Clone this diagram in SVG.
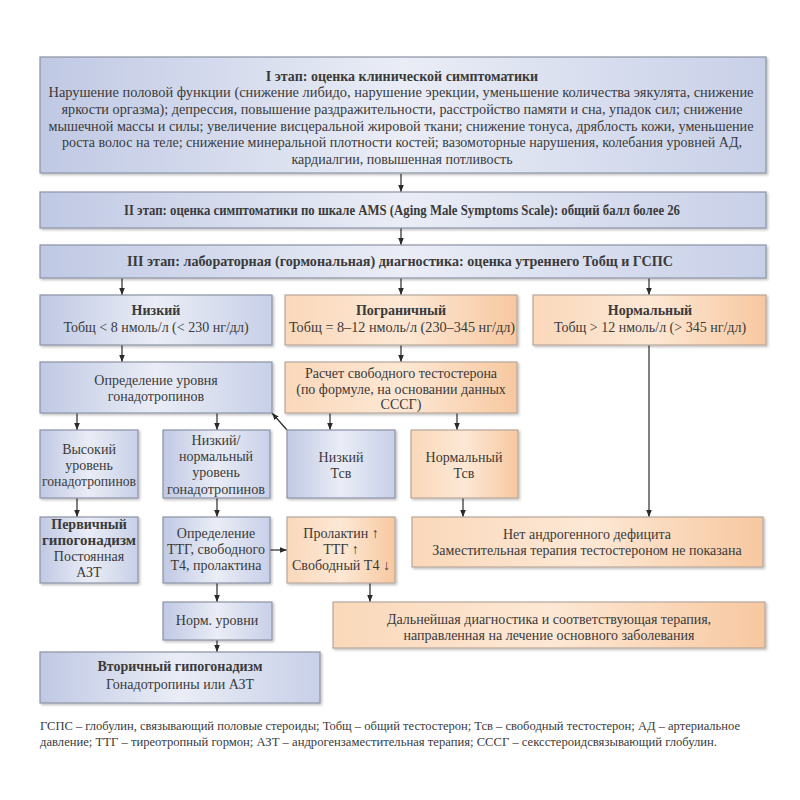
<svg xmlns="http://www.w3.org/2000/svg" width="800" height="800" viewBox="0 0 800 800">
<defs>
<linearGradient id="gb" x1="0" y1="0" x2="1" y2="0">
<stop offset="0" stop-color="#c0c9e4"/>
<stop offset="0.5" stop-color="#eaedf6"/>
<stop offset="1" stop-color="#c8d0e8"/>
</linearGradient>
<linearGradient id="go" x1="0" y1="0" x2="1" y2="0">
<stop offset="0" stop-color="#fad8ba"/>
<stop offset="0.5" stop-color="#fde8d5"/>
<stop offset="1" stop-color="#f7c8a0"/>
</linearGradient>
<filter id="sh" x="-5%" y="-5%" width="110%" height="120%">
<feDropShadow dx="1.5" dy="1.5" stdDeviation="1" flood-color="#000" flood-opacity="0.25"/>
</filter>
<marker id="ar" viewBox="0 0 10 10" refX="10" refY="5" markerWidth="7" markerHeight="7" orient="auto" markerUnits="userSpaceOnUse">
<path d="M0,1 L10,5 L0,9 z" fill="#2a2a2a"/>
</marker>
</defs>
<style>
.b{fill:url(#gb);stroke:#8d93a5;stroke-width:1.2;filter:url(#sh)}
.o{fill:url(#go);stroke:#b7a79a;stroke-width:1.2;filter:url(#sh)}
text{font-family:"Liberation Serif","DejaVu Serif",serif;fill:#3a3a3a;font-size:14px;text-anchor:middle}
.t{font-weight:bold}
.lg{font-size:11.5px;text-anchor:start}
.c line,.c path{stroke:#2a2a2a;stroke-width:1.2;fill:none}
.a{marker-end:url(#ar)}
</style>
<rect width="800" height="800" fill="#ffffff"/>

<g class="c" id="connectors">
<line class="a" x1="401" y1="174" x2="401" y2="192"/>
<line class="a" x1="401" y1="228" x2="401" y2="245"/>
<line class="a" x1="122" y1="278" x2="122" y2="295"/>
<line class="a" x1="401" y1="278" x2="401" y2="295"/>
<line class="a" x1="649" y1="278" x2="649" y2="295"/>
<line class="a" x1="122" y1="345" x2="122" y2="362"/>
<line class="a" x1="401" y1="345" x2="401" y2="362"/>
<line class="a" x1="77" y1="413" x2="77" y2="430"/>
<line class="a" x1="217" y1="413" x2="217" y2="430"/>
<line class="a" x1="330" y1="413" x2="330" y2="430"/>
<line class="a" x1="457" y1="413" x2="457" y2="430"/>
<line class="a" x1="287" y1="430" x2="272" y2="413"/>
<line class="a" x1="77" y1="498" x2="77" y2="517"/>
<line class="a" x1="217" y1="498" x2="217" y2="517"/>
<line class="a" x1="463" y1="498" x2="463" y2="517"/>
<line class="a" x1="649" y1="345" x2="649" y2="517"/>
<line class="a" x1="270" y1="550" x2="287" y2="550"/>
<line class="a" x1="217" y1="583" x2="217" y2="602"/>
<line class="a" x1="370" y1="583" x2="370" y2="602"/>
<line class="a" x1="217" y1="640" x2="217" y2="652"/>
</g>

<g id="n1">
<rect class="b" x="40" y="57" width="726" height="116"/>
<text class="t" x="402" y="81">I этап: оценка клинической симптоматики</text>
<text x="401" y="97" textLength="705" lengthAdjust="spacingAndGlyphs">Нарушение половой функции (снижение либидо, нарушение эрекции, уменьшение количества эякулята, снижение</text>
<text x="402" y="114" textLength="681" lengthAdjust="spacingAndGlyphs">яркости оргазма); депрессия, повышение раздражительности, расстройство памяти и сна, упадок сил; снижение</text>
<text x="401" y="131" textLength="705" lengthAdjust="spacingAndGlyphs">мышечной массы и силы; увеличение висцеральной жировой ткани; снижение тонуса, дряблость кожи, уменьшение</text>
<text x="402" y="147" textLength="680" lengthAdjust="spacingAndGlyphs">роста волос на теле; снижение минеральной плотности костей; вазомоторные нарушения, колебания уровней АД,</text>
<text x="402" y="164">кардиалгии, повышенная потливость</text>
</g>
<g id="n2">
<rect class="b" x="40" y="192" width="726" height="36"/>
<text class="t" x="402" y="215" textLength="556" lengthAdjust="spacingAndGlyphs">II этап: оценка симптоматики по шкале AMS (Aging Male Symptoms Scale): общий балл более 26</text>
</g>
<g id="n3">
<rect class="b" x="40" y="245" width="726" height="33"/>
<text class="t" x="400" y="266" textLength="546" lengthAdjust="spacingAndGlyphs">III этап: лабораторная (гормональная) диагностика: оценка утреннего Тобщ  и ГСПС</text>
</g>
<g id="n4">
<rect class="b" x="40" y="295" width="232" height="50"/>
<text class="t" x="156" y="315">Низкий</text>
<text x="156" y="332">Тобщ &lt; 8  нмоль/л (&lt; 230 нг/дл)</text>
</g>
<g id="n5">
<rect class="o" x="285" y="295" width="232" height="50"/>
<text class="t" x="401" y="315">Пограничный</text>
<text x="402" y="332" textLength="226" lengthAdjust="spacingAndGlyphs">Тобщ = 8–12  нмоль/л (230–345 нг/дл)</text>
</g>
<g id="n6">
<rect class="o" x="533" y="295" width="233" height="50"/>
<text class="t" x="650" y="315">Нормальный</text>
<text x="650" y="332">Тобщ &gt; 12  нмоль/л (&gt; 345 нг/дл)</text>
</g>
<g id="n7">
<rect class="b" x="40" y="362" width="232" height="51"/>
<text x="156" y="385">Определение уровня</text>
<text x="156" y="401">гонадотропинов</text>
</g>
<g id="n8">
<rect class="o" x="285" y="362" width="232" height="51"/>
<text x="401" y="378">Расчет свободного тестостерона</text>
<text x="401" y="394">(по формуле, на основании данных</text>
<text x="401" y="409">СССГ)</text>
</g>
<g id="n9">
<rect class="b" x="40" y="430" width="98" height="68"/>
<text x="89" y="454">Высокий</text>
<text x="89" y="470">уровень</text>
<text x="89" y="486" textLength="94" lengthAdjust="spacingAndGlyphs">гонадотропинов</text>
</g>
<g id="n10">
<rect class="b" x="163" y="430" width="107" height="68"/>
<text x="216" y="445">Низкий/</text>
<text x="216" y="461">нормальный</text>
<text x="216" y="477">уровень</text>
<text x="216" y="494" textLength="98" lengthAdjust="spacingAndGlyphs">гонадотропинов</text>
</g>
<g id="n11">
<rect class="b" x="287" y="430" width="108" height="68"/>
<text x="341" y="462">Низкий</text>
<text x="341" y="478">Тсв</text>
</g>
<g id="n12">
<rect class="o" x="411" y="430" width="107" height="68"/>
<text x="464" y="462">Нормальный</text>
<text x="464" y="478">Тсв</text>
</g>
<g id="n13">
<rect class="b" x="40" y="517" width="98" height="66"/>
<text class="t" x="89" y="529">Первичный</text>
<text class="t" x="89" y="545" textLength="94" lengthAdjust="spacingAndGlyphs">гипогонадизм</text>
<text x="89" y="561">Постоянная</text>
<text x="89" y="577">АЗТ</text>
</g>
<g id="n14">
<rect class="b" x="163" y="517" width="107" height="66"/>
<text x="216" y="538">Определение</text>
<text x="216" y="554" textLength="98" lengthAdjust="spacingAndGlyphs">ТТГ, свободного</text>
<text x="216" y="570">Т4, пролактина</text>
</g>
<g id="n15">
<rect class="o" x="287" y="517" width="108" height="66"/>
<text x="341" y="538">Пролактин ↑</text>
<text x="341" y="554">ТТГ ↑</text>
<text x="341" y="570" textLength="98" lengthAdjust="spacingAndGlyphs">Свободный Т4 ↓</text>
</g>
<g id="n16">
<rect class="o" x="412" y="517" width="351" height="50"/>
<text x="587" y="539">Нет андрогенного дефицита</text>
<text x="587" y="555">Заместительная терапия тестостероном не показана</text>
</g>
<g id="n17">
<rect class="b" x="163" y="602" width="109" height="38"/>
<text x="217" y="625">Норм. уровни</text>
</g>
<g id="n18">
<rect class="o" x="333" y="602" width="432" height="46"/>
<text x="549" y="624">Дальнейшая диагностика и соответствующая терапия,</text>
<text x="549" y="640">направленная на лечение основного заболевания</text>
</g>
<g id="n19">
<rect class="b" x="40" y="652" width="280" height="51"/>
<text class="t" x="180" y="671">Вторичный гипогонадизм</text>
<text x="180" y="689">Гонадотропины или АЗТ</text>
</g>
<g id="legend">
<text class="lg" x="40" y="730" textLength="700" lengthAdjust="spacingAndGlyphs">ГСПС – глобулин, связывающий половые стероиды; Тобщ – общий тестостерон; Тсв – свободный тестостерон; АД – артериальное</text>
<text class="lg" x="40" y="746" textLength="677" lengthAdjust="spacingAndGlyphs">давление; ТТГ – тиреотропный гормон; АЗТ – андрогензаместительная терапия;  СССГ – сексстероидсвязывающий глобулин.</text>
</g>
</svg>
